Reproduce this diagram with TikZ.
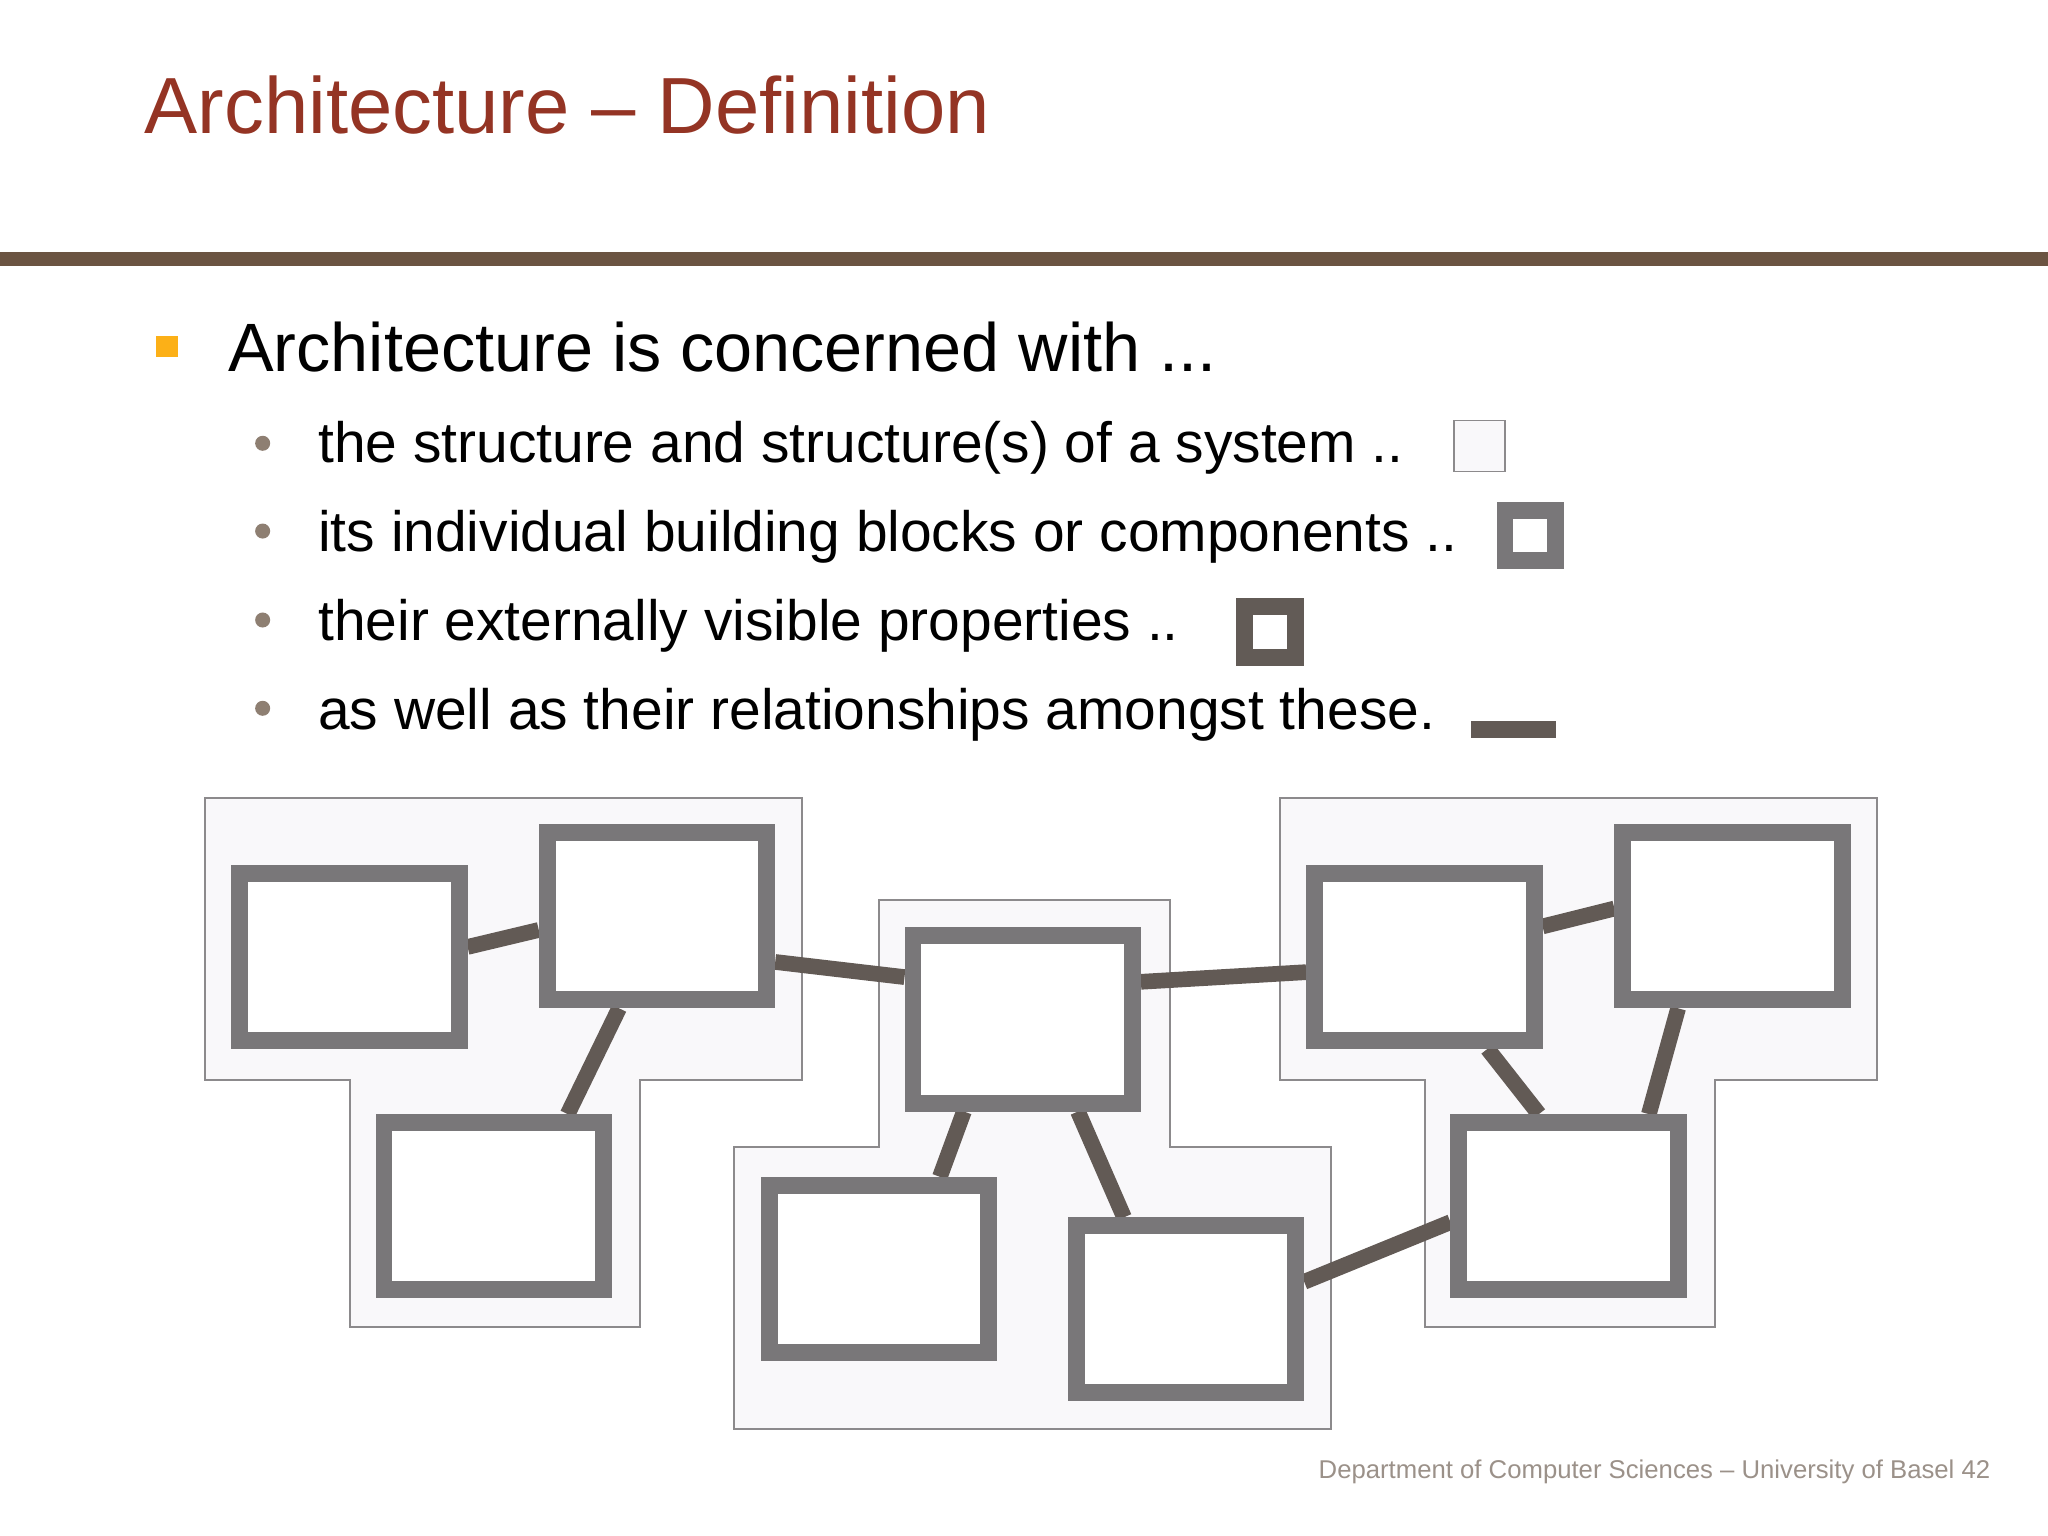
\documentclass[tikz,border=0pt]{standalone}
\usepackage{fontspec}
\setmainfont{Liberation Sans}
\usetikzlibrary{positioning}

\definecolor{titlered}{RGB}{148,52,36}
\definecolor{rulebrown}{RGB}{107,84,66}
\definecolor{bulletorange}{RGB}{252,176,23}
\definecolor{dotgray}{RGB}{142,127,114}
\definecolor{partgray}{RGB}{121,119,121}
\definecolor{partdark}{RGB}{98,91,86}
\definecolor{linkgray}{RGB}{98,90,85}
\definecolor{groupfill}{RGB}{249,248,250}
\definecolor{groupline}{RGB}{140,138,140}
\definecolor{footgray}{RGB}{155,145,137}

\pgfdeclarelayer{groups}
\pgfdeclarelayer{links}
\pgfsetlayers{groups,links,main}

\begin{document}
\begin{tikzpicture}[on grid, node distance=1cm, inner sep=0pt]
    \tikzstyle{part} = [rectangle, draw=partgray, fill=white, line width=1.3mm,
                        minimum width=1.68cm, minimum height=1.28cm]
    \tikzstyle{group} = [draw=groupline, fill=groupfill, line width=0.4pt]
    \tikzstyle{link} = [draw=linkgray, line width=1.2mm]
    \tikzstyle{item} = [anchor=base west, font=\fontsize{12.4}{14.8}\selectfont]
    \tikzstyle{subdot} = [circle, fill=dotgray, minimum size=0.115cm]

    \useasboundingbox (0,0) rectangle (15.68,-11.76);

    % heading
    \node[anchor=base west, text=titlered, font=\fontsize{17.35}{20}\selectfont]
        (title) at (1.10,-1.02) {Architecture – Definition};
    \draw[rulebrown, line width=1.05mm] (0,-1.985) -- (15.68,-1.985);

    % bullets
    \node[anchor=base west, font=\fontsize{14.9}{17.8}\selectfont]
        (head) at (1.74,-2.846) {Architecture is concerned with ...};
    \node[rectangle, fill=bulletorange, minimum size=0.165cm] (headmark) at (1.28,-2.653) {};

    \node[item] (item1) at (2.43,-3.542) {the structure and structure(s) of a system ..};
    \node[item] (item2) at (2.43,-4.224) {its individual building blocks or components ..};
    \node[item] (item3) at (2.43,-4.905) {their externally visible properties ..};
    \node[item] (item4) at (2.43,-5.582) {as well as their relationships amongst these.};
    \node[subdot] (dot1) at (2.011,-3.394) {};
    \node[subdot] (dot2) at (2.011,-4.066) {};
    \node[subdot] (dot3) at (2.011,-4.747) {};
    \node[subdot] (dot4) at (2.011,-5.423) {};

    % legend marks
    \node[group, rectangle, minimum size=0.39cm] (mark1) at (11.325,-3.415) {};
    \node[part, minimum width=0.385cm, minimum height=0.39cm] (mark2) at (11.715,-4.10) {};
    \node[part, draw=partdark, minimum size=0.39cm] (mark3) at (9.72,-4.84) {};
    \node[rectangle, fill=linkgray, minimum width=0.65cm, minimum height=0.128cm] (mark4) at (11.585,-5.584) {};

    % components
    \node[part] (A) at (2.675,-7.325) {};
    \node[part, above right=0.31cm and 2.355cm of A] (B) {};
    \node[part, below right=1.91cm and 1.105cm of A] (C) {};

    \node[part] (D) at (7.83,-7.805) {};
    \node[part, below left=1.91cm and 1.10cm of D] (E) {};
    \node[part, below right=2.22cm and 1.25cm of D] (F) {};

    \node[part] (G) at (10.905,-7.325) {};
    \node[part, above right=0.31cm and 2.36cm of G] (H) {};
    \node[part, below right=1.91cm and 1.105cm of G] (I) {};

    \begin{pgfonlayer}{links}
      \draw[link] ([yshift=0.075cm] A.east) -- ([yshift=-0.105cm] B.west);
      \draw[link] ([xshift=-0.29cm] B.south) -- ([xshift=0.566cm] C.north);
      \draw[link] ([yshift=-0.35cm] B.east) -- ([yshift=0.324cm] D.west);
      \draw[link] ([xshift=-0.45cm] D.south) -- ([xshift=0.466cm] E.north);
      \draw[link] ([xshift=0.423cm] D.south) -- ([xshift=-0.474cm] F.north);
      \draw[link] ([yshift=0.288cm] D.east) -- ([yshift=-0.118cm] G.west);
      \draw[link] ([yshift=0.211cm] F.east) -- ([yshift=-0.122cm] I.west);
      \draw[link] ([yshift=0.232cm] G.east) -- ([yshift=0.059cm] H.west);
      \draw[link] ([xshift=0.484cm] G.south) -- ([xshift=-0.228cm] I.north);
      \draw[link] ([xshift=-0.417cm] H.south) -- ([xshift=0.614cm] I.north);
    \end{pgfonlayer}

    \begin{pgfonlayer}{groups}
      \fill[white] (0,0) rectangle (15.68,-11.76);
      \filldraw[group] (1.57,-6.11) -- (6.14,-6.11) -- (6.14,-8.27) -- (4.90,-8.27)
          -- (4.90,-10.16) -- (2.68,-10.16) -- (2.68,-8.27) -- (1.57,-8.27) -- cycle;
      \filldraw[group] (6.73,-6.89) -- (8.96,-6.89) -- (8.96,-8.78) -- (10.19,-8.78)
          -- (10.19,-10.94) -- (5.62,-10.94) -- (5.62,-8.78) -- (6.73,-8.78) -- cycle;
      \filldraw[group] (9.80,-6.11) -- (14.37,-6.11) -- (14.37,-8.27) -- (13.13,-8.27)
          -- (13.13,-10.16) -- (10.91,-10.16) -- (10.91,-8.27) -- (9.80,-8.27) -- cycle;
    \end{pgfonlayer}

    % footer
    \node[anchor=base east, text=footgray, font=\fontsize{5.6}{6.7}\selectfont]
        (footer) at (15.245,-11.32) {Department of Computer Sciences – University of Basel 42};
\end{tikzpicture}
\end{document}
